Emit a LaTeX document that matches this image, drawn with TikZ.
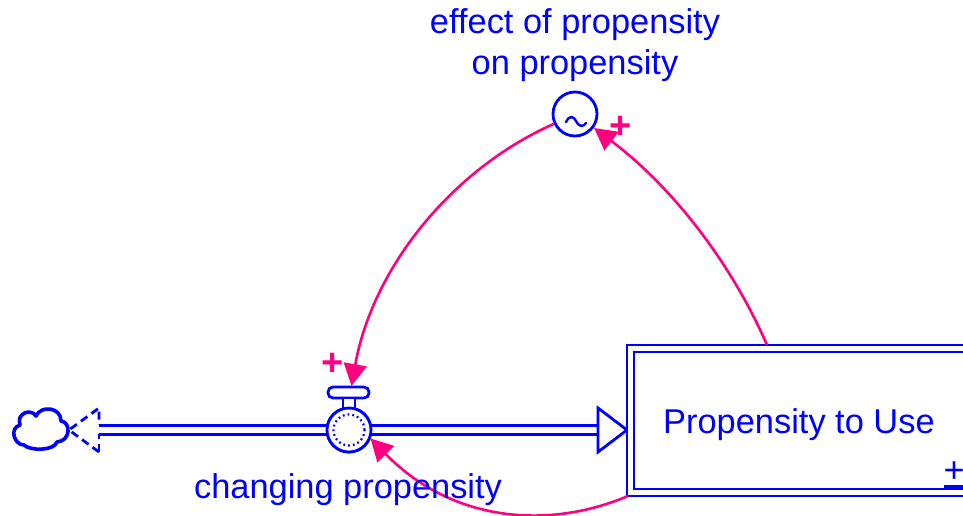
\documentclass[tikz,border=0pt]{standalone}
\usepackage{fontspec}
\setmainfont{Liberation Sans}
\usetikzlibrary{arrows.meta,calc}
\definecolor{simblue}{RGB}{0,0,255}
\definecolor{linkpink}{RGB}{255,0,128}
\tikzset{
  lbl/.style={text=simblue,font=\fontsize{34.4}{41}\selectfont,inner sep=0pt,align=center},
  polar/.style={text=linkpink,font=\bfseries\fontsize{38}{38}\selectfont,inner sep=0pt},
  link/.style={draw=linkpink,line width=2.6pt,-{Triangle[length=22pt,width=23pt]}},
  pipe/.style={draw=simblue,line width=2.8pt,double=white,double distance=6.2pt},
  outline/.style={draw=simblue,line width=2.8pt,fill=white},
}
\begin{document}
\begin{tikzpicture}[x=1pt,y=-1pt]
\useasboundingbox (0,0) rectangle (963,516);
% anchors
\node[outline,circle,minimum size=44pt,inner sep=0pt] (valve) at (349,430) {};
\node[outline,circle,minimum size=44pt,inner sep=0pt] (aux) at (575,114) {};
\coordinate (cloudtip) at (69,430);
\coordinate (lefthead) at (99,430);
\coordinate (righthead) at (598,430);
\coordinate (stockedge) at (627,430);
% pipes
\draw[pipe] (lefthead) -- (valve.west);
\draw[pipe] (valve.east) -- (righthead);
\draw[outline] (righthead |- 0,408) -- (stockedge) -- (righthead |- 0,452) -- cycle;
\draw[draw=simblue,line width=2.8pt,dash pattern=on 8pt off 5pt] (lefthead |- 0,452) -- (cloudtip) -- (lefthead |- 0,408) -- (lefthead |- 0,425);
\draw[draw=simblue,line width=2.8pt,dash pattern=on 8pt off 5pt] (lefthead |- 0,452) -- (lefthead |- 0,434);
% cloud
\draw[draw=simblue,line width=3.6pt,fill=white,line join=round]
  (24,445) .. controls (14,445) and (9,428) .. (20,425)
  .. controls (16,413) and (31,408) .. (36,416)
  .. controls (41,405) and (61,407) .. (61,421)
  .. controls (71,422) and (71,441) .. (57,442)
  .. controls (54,451) and (30,451) .. (24,445) -- cycle;
% valve
\node[outline,rounded corners=5pt,minimum width=41pt,minimum height=11pt,inner sep=0pt] (handle) at (348.5,392.5) {};
\draw[outline] (343,398) rectangle (355,409);
\node[outline,circle,minimum size=44pt,inner sep=0pt] (valve2) at (349,430) {};
\draw[draw=simblue,line width=2.2pt,dash pattern=on 1.8pt off 3pt] (valve2.center) circle[radius=15.5pt];
% stock
\node[draw=simblue,line width=2.8pt,fill=white,outer sep=0pt,minimum width=400pt,minimum height=151pt,inner sep=0pt,anchor=north west] (stock) at (627,345) {};
\draw[draw=simblue,line width=2.8pt] (634,352) rectangle (1030,489);
\node[lbl,anchor=base west] (stocklabel) at (663,433) {Propensity to Use};
\node[text=simblue,font=\fontsize{36}{36}\selectfont,inner sep=0pt] (stockplus) at (954,472) {+};
\draw[draw=simblue,line width=3pt] (944,486) -- (963,486);
% aux wave
\draw[simblue,line width=2.4pt,line cap=round] (566,122) .. controls (570,114) and (574,117) .. (576,121) .. controls (578,126) and (583,128) .. (586,123);
% links
\coordinate (stockbottomleft) at (628,496);
\coordinate (stocktop) at (767,345);
\coordinate (handletip) at (351.5,386);
\coordinate (auxtip) at (594,128);
\coordinate (valvetip) at (370.5,438.5);
\draw[link] (aux.205) .. controls (450,170) and (372,270) .. (handletip);
\draw[link] (stocktop) .. controls (730,260) and (670,185) .. (auxtip);
\draw[link] (stockbottomleft) .. controls (548,530) and (452,522) .. (valvetip);
% labels
\node[lbl,anchor=base] (auxlabel) at (575,34) {effect of propensity};
\node[lbl,anchor=base] (auxlabel2) at (575,75) {on propensity};
\node[lbl,anchor=base] (valvelabel) at (348,498) {changing propensity};
\node[polar] (p1) at (333,364) {+};
\node[polar] (p2) at (621,127) {+};
\end{tikzpicture}
\end{document}
